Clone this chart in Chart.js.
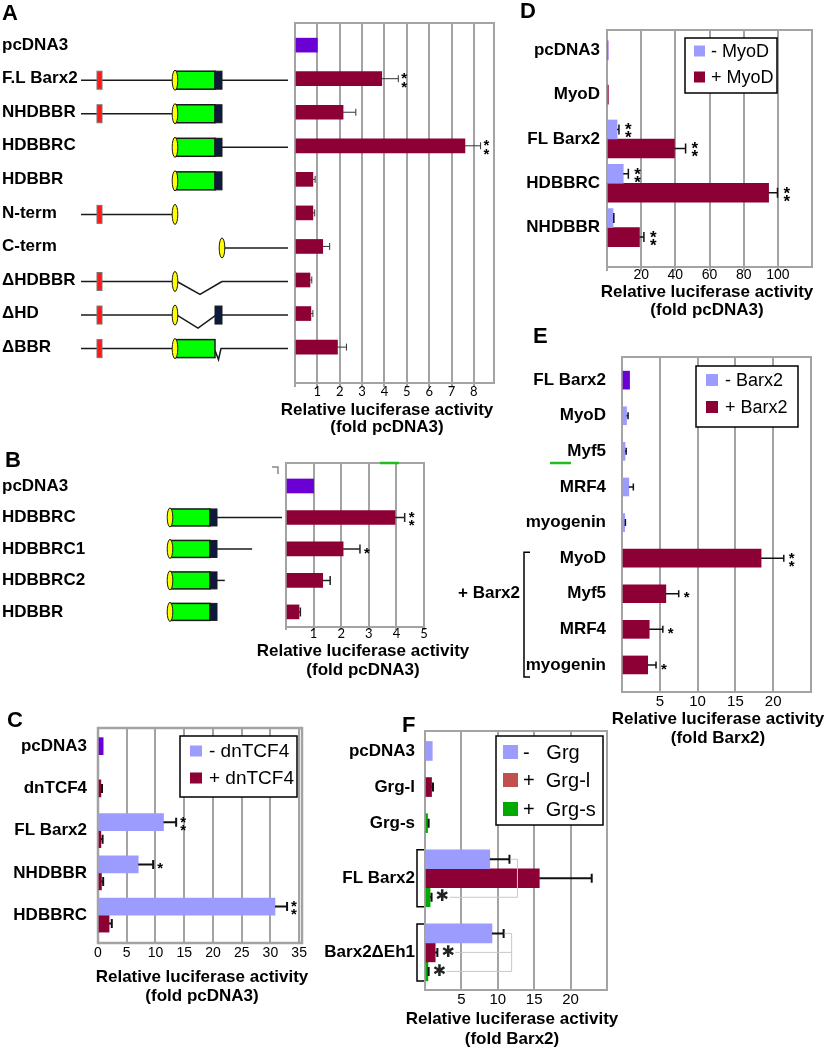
<!DOCTYPE html>
<html>
<head>
<meta charset="utf-8">
<script src="https://cdn.jsdelivr.net/npm/chart.js@4.4.1/dist/chart.umd.min.js"></script>
<style>
  body { margin: 0; background: #fff; }
  #fig { position: relative; width: 826px; height: 1050px; overflow: hidden; background: #fff; }
  #fig canvas { position: absolute; }
  .tag { position: absolute; font: bold 22px 'Liberation Sans', Arial, sans-serif; line-height: 1; color: #000; }
</style>
</head>
<body>
<div id="fig">
  <canvas id="chartA"></canvas>
  <canvas id="chartB"></canvas>
  <canvas id="chartD"></canvas>
  <canvas id="chartE"></canvas>
  <canvas id="chartC"></canvas>
  <canvas id="chartF"></canvas>
  <div class="tag" style="left:2px;top:2px">A</div>
  <div class="tag" style="left:5px;top:449px">B</div>
  <div class="tag" style="left:7px;top:709px">C</div>
  <div class="tag" style="left:520px;top:0px">D</div>
  <div class="tag" style="left:533px;top:325px">E</div>
  <div class="tag" style="left:402px;top:714px">F</div>
</div>
<script>
const PURPLE = '#6a00d4';
const LAVENDER = '#9c9cff';
const MAROON = '#8c0036';
const GREEN = '#00aa00';
const LIGHTRED = '#c0504d';
const GRID = '#a3a3a3';
const LABEL_FONT = "bold 17px 'Liberation Sans', Arial, sans-serif";

// ---------- A : deletion constructs
const aLabels = ['pcDNA3', 'F.L Barx2', 'NHDBBR', 'HDBBRC', 'HDBBR', 'N-term', 'C-term', 'ΔHDBBR', 'ΔHD', 'ΔBBR'];
const aValues = [1, 3.88, 2.15, 7.6, 0.8, 0.8, 1.24, 0.67, 0.71, 1.9];
const aErrors = [null, 4.62, 2.72, 8.3, 0.9, 0.88, 1.55, 0.75, 0.8, 2.3];
const aStars = ['', '**', '', '**', '', '', '', '', '', ''];
const aGridValues = [0, 1, 2, 3, 4, 5, 6, 7, 8];
const aTickLabels = [1, 2, 3, 4, 5, 6, 7, 8];
// n = N-term + red box, h = HD oval, g = homeodomain, b = BBR, c = C tail,
// k = oval at C-term start, v/w = deletion, z = BBR deleted
const aConstructs = [[], ['n', 'h', 'g', 'b', 'c'], ['n', 'h', 'g', 'b'], ['h', 'g', 'b', 'c'], ['h', 'g', 'b'],
  ['n', 'h'], ['k', 'c'], ['n', 'h', 'v', 'c'], ['n', 'h', 'w', 'b', 'c'], ['n', 'h', 'g', 'z', 'c']];

// ---------- B : C-terminal truncations
const bLabels = ['pcDNA3', 'HDBBRC', 'HDBBRC1', 'HDBBRC2', 'HDBBR'];
const bValues = [1, 3.95, 2.07, 1.33, 0.47];
const bErrors = [null, 4.3, 2.68, 1.6, 0.52];
const bStars = ['', '**', '*', '', ''];
const bGridValues = [0, 1, 2, 3, 4, 5];
const bTickLabels = [1, 2, 3, 4, 5];
const bConstructs = [[], ['h', 'g', 'b', ['c', 1]], ['h', 'g', 'b', ['c', 0.54]], ['h', 'g', 'b', ['c', 0.12]], ['h', 'g', 'b']];

// ---------- C : dnTCF4
const cLabels = ['pcDNA3', 'dnTCF4', 'FL Barx2', 'NHDBBR', 'HDBBRC'];
const cMinus = [0.9, null, 11.4, 7, 30.8];
const cMinusErr = [null, null, 13.6, 9.6, 32.9];
const cMinusStars = ['', '', '**', '*', '**'];
const cPlus = [null, 0.5, 0.5, 0.6, 1.93];
const cPlusErr = [null, 0.7, 0.8, 0.9, 2.4];
const cGridValues = [0, 5, 10, 15, 20, 25, 30, 35];
const cTickLabels = [0, 5, 10, 15, 20, 25, 30, 35];

// ---------- D : MyoD
const dLabels = ['pcDNA3', 'MyoD', 'FL Barx2', 'HDBBRC', 'NHDBBR'];
const dMinus = [0.6, null, 5.9, 9.5, 3.5];
const dMinusErr = [null, null, 7, 12.5, 4];
const dMinusStars = ['', '', '**', '**', ''];
const dPlus = [null, 0.8, 39.5, 94.6, 19];
const dPlusErr = [null, null, 46, 99.8, 21.6];
const dPlusStars = ['', '', '**', '**', '**'];
const dGridValues = [0, 20, 40, 60, 80, 100];
const dTickLabels = [20, 40, 60, 80, 100];

// ---------- E : MRFs
const eLabels = ['FL Barx2', 'MyoD', 'Myf5', 'MRF4', 'myogenin', 'MyoD', 'Myf5', 'MRF4', 'myogenin'];
const eMinus = [1, 0.6, 0.4, 0.9, 0.35, null, null, null, null];
const eMinusErr = [null, 0.8, 0.55, 1.5, 0.45, null, null, null, null];
const ePlus = [null, null, null, null, null, 18.4, 5.8, 3.6, 3.4];
const ePlusErr = [null, null, null, null, null, 21.4, 7.5, 5.4, 4.5];
const ePlusStars = ['', '', '', '', '', '**', '*', '*', '*'];
const eGridValues = [0, 5, 10, 15, 20];
const eTickLabels = [5, 10, 15, 20];

// ---------- F : Grg
const fLabels = ['pcDNA3', 'Grg-l', 'Grg-s', 'FL Barx2', 'Barx2ΔEh1'];
const fNone = [1.0, null, null, 8.9, 9.2];
const fNoneErr = [null, null, null, 11.6, 10.8];
const fLong = [null, 0.9, null, 15.7, 1.4];
const fLongErr = [null, 1.1, null, 22.9, 1.7];
const fLongStars = ['', '', '', '', '✱'];
const fShort = [null, null, 0.35, 0.7, 0.4];
const fShortErr = [null, null, 0.5, 0.9, 0.5];
const fShortStars = ['', '', '', '✱', '✱'];
const fLinks = [{ row: 3, from: 0, to: [2] }, { row: 4, from: 0, to: [1, 2] }];
const fGridValues = [0, 5, 10, 15, 20];
const fTickLabels = [5, 10, 15, 20];

function uniformRows(n) { return Array.from({ length: n }, (_, i) => i); }
// rows spaced by the number of bars each row holds (unit = one bar)
function slotRows(series, gap) {
  const counts = series[0].map((_, i) => series.filter(s => s[i] != null).length);
  const rows = [0];
  for (let i = 1; i < counts.length; i++) rows.push(rows[i - 1] + (counts[i - 1] + counts[i]) / 2 + gap);
  return rows;
}
function points(values, rows) { return values.map((v, i) => ({ x: v, y: rows[i] })); }
function firstRow(color, rest) { return (_, i) => i === 0 ? color : rest; }

function drawConstruct(ctx, parts, y, g, ox) {
  const X = v => v - ox;
  const kinds = parts.map(p => Array.isArray(p) ? p[0] : p);
  const half = g.h / 2;
  ctx.save();
  ctx.strokeStyle = '#1a1a1a';
  ctx.lineWidth = 1.5;
  const path = pts => {
    ctx.beginPath();
    pts.forEach(([px, py], k) => k ? ctx.lineTo(X(px), py) : ctx.moveTo(X(px), py));
    ctx.stroke();
  };
  parts.forEach(p => {
    const kind = Array.isArray(p) ? p[0] : p;
    const frac = Array.isArray(p) ? p[1] : 1;
    if (kind === 'n') path([[g.start, y], [g.hd, y]]);
    if (kind === 'c') path([[g.bbrEnd, y], [g.bbrEnd + (g.end - g.bbrEnd) * frac, y]]);
    if (kind === 'v') path([[g.hd + 2, y], [g.hd + 25, y + 13], [g.bbrEnd, y]]);
    if (kind === 'w') path([[g.hd + 2, y], [g.hd + 23, y + 13], [g.hdEnd + 1, y]]);
    if (kind === 'z') path([[g.hdEnd, y + 2], [g.hdEnd + 3.5, y + 11], [g.bbrEnd - 1, y], [g.bbrEnd, y]]);
  });
  const box = (x1, x2, fill, stroke, lw) => {
    ctx.fillStyle = fill;
    ctx.fillRect(X(x1), y - half, x2 - x1, g.h);
    ctx.strokeStyle = stroke;
    ctx.lineWidth = lw;
    ctx.strokeRect(X(x1), y - half, x2 - x1, g.h);
  };
  if (kinds.includes('n')) box(g.red - 2.5, g.red + 2.5, '#ff1a1a', '#777', 1);
  if (kinds.includes('g')) box(g.hd + 1, g.hdEnd, '#00ff00', '#1a1a1a', 1.5);
  if (kinds.includes('b')) box(g.hdEnd, g.bbrEnd, '#0d1a3d', '#1a1a1a', 1);
  const oval = cx => {
    ctx.beginPath();
    ctx.ellipse(X(cx), y, 2.8, half + 1, 0, 0, Math.PI * 2);
    ctx.fillStyle = '#ffff00';
    ctx.fill();
    ctx.strokeStyle = '#1a1a1a';
    ctx.lineWidth = 1;
    ctx.stroke();
  };
  if (kinds.includes('h')) oval(g.hd);
  if (kinds.includes('k')) oval(g.bbrEnd);
  ctx.restore();
}

function drawStars(ctx, s, x, y, st) {
  ctx.save();
  ctx.fillStyle = st.color || '#000';
  ctx.font = st.font;
  ctx.textAlign = 'left';
  if (st.glyph) {
    ctx.textBaseline = 'middle';
    ctx.fillText(s, x, y);
  } else {
    ctx.textBaseline = 'alphabetic';
    const n = s.length;
    for (let k = 0; k < n; k++) {
      const yy = y + (k - (n - 1) / 2) * st.gap;
      ctx.fillText('*', x, yy + st.size * 0.58);
    }
  }
  ctx.restore();
}

function panelPlugin(p) {
  const ox = p.canvas.x, oy = p.canvas.y;
  return {
    id: 'panel' + p.id,
    beforeDatasetsDraw(chart) {
      const a = chart.chartArea, ctx = chart.ctx;
      ctx.save();
      ctx.strokeStyle = GRID;
      ctx.lineWidth = p.frameWidth || 2;
      ctx.strokeRect(a.left, a.top, a.right - a.left, a.bottom - a.top);
      ctx.restore();
    },
    afterDatasetsDraw(chart) {
      const ctx = chart.ctx, xs = chart.scales.x, ys = chart.scales.y;
      ctx.save();
      // row labels
      ctx.font = LABEL_FONT;
      ctx.fillStyle = '#000';
      ctx.textBaseline = 'middle';
      ctx.textAlign = p.labelAlign;
      p.labels.forEach((lab, i) => ctx.fillText(lab, p.labelX - ox, ys.getPixelForValue(p.rows[i])));
      // axis title
      ctx.textAlign = 'center';
      ctx.fillText('Relative luciferase activity', p.title.x - ox, p.title.y1 - oy);
      ctx.fillText(p.title.line2, p.title.x - ox, p.title.y2 - oy);
      ctx.restore();

      // constructs
      if (p.constructs) {
        p.constructs.forEach((parts, i) => drawConstruct(ctx, parts, ys.getPixelForValue(p.rows[i]) + p.geom.dy, p.geom, ox));
      }

      // error bars and significance marks
      chart.data.datasets.forEach((ds, di) => {
        const meta = chart.getDatasetMeta(di);
        meta.data.forEach((el, i) => {
          if (ds.data[i].x == null) return;
          const e = ds.errors ? ds.errors[i] : null;
          let endX = el.x;
          if (e != null) {
            const ex = xs.getPixelForValue(e);
            ctx.save();
            ctx.strokeStyle = p.err.color;
            ctx.lineWidth = p.err.width;
            ctx.beginPath();
            ctx.moveTo(el.x, el.y);
            ctx.lineTo(ex, el.y);
            ctx.moveTo(ex, el.y - p.err.cap);
            ctx.lineTo(ex, el.y + p.err.cap);
            ctx.stroke();
            ctx.restore();
            endX = ex;
          }
          const s = ds.stars ? ds.stars[i] : '';
          if (s) drawStars(ctx, s, endX + p.star.dx, el.y, p.star);
        });
      });

      if (p.extra) p.extra(chart, ctx, ox, oy);

      // legend box
      if (p.legend) {
        const L = p.legend;
        ctx.save();
        ctx.fillStyle = '#fff';
        ctx.fillRect(L.box[0] - ox, L.box[1] - oy, L.box[2] - L.box[0], L.box[3] - L.box[1]);
        ctx.strokeStyle = '#000';
        ctx.lineWidth = 1.5;
        ctx.strokeRect(L.box[0] - ox, L.box[1] - oy, L.box[2] - L.box[0], L.box[3] - L.box[1]);
        ctx.font = L.font;
        ctx.textBaseline = 'middle';
        ctx.textAlign = 'left';
        chart.data.datasets.forEach((ds, di) => {
          const y = L.ys[di] - oy;
          ctx.fillStyle = ds.legendColor;
          ctx.fillRect(L.swatch[0] - ox, y - L.swatch[2] / 2, L.swatch[1], L.swatch[2]);
          ctx.fillStyle = '#000';
          ctx.fillText(ds.label, L.textX - ox, y + 1);
        });
        ctx.restore();
      }
    }
  };
}

function buildPanel(p) {
  const cv = document.getElementById(p.id);
  cv.width = p.canvas.w;
  cv.height = p.canvas.h;
  cv.style.left = p.canvas.x + 'px';
  cv.style.top = p.canvas.y + 'px';
  const AX = 22;
  const padding = {
    left: p.area.l - p.canvas.x,
    top: p.area.t - p.canvas.y,
    right: p.canvas.x + p.canvas.w - p.area.r,
    bottom: p.canvas.y + p.canvas.h - p.area.b - AX
  };
  return new Chart(cv, {
    type: 'bar',
    data: { datasets: p.datasets },
    options: {
      responsive: false,
      animation: false,
      events: [],
      indexAxis: 'y',
      layout: { padding },
      datasets: { bar: { barThickness: p.thickness, skipNull: true, grouped: true, borderWidth: 0 } },
      plugins: { legend: { display: false }, tooltip: { enabled: false } },
      scales: {
        x: {
          type: 'linear', min: 0, max: p.xMax,
          afterBuildTicks: s => { s.ticks = p.gridValues.map(v => ({ value: v })); },
          afterFit: s => { s.height = AX; },
          grid: { color: GRID, lineWidth: 2, drawTicks: p.tickLen > 0, tickLength: p.tickLen },
          border: { display: false },
          ticks: {
            color: '#000', padding: p.tickPad, autoSkip: false, maxRotation: 0,
            font: { family: p.tickFamily, size: p.tickSize, lineHeight: 1 },
            callback: v => p.tickLabels.includes(v) ? String(v) : ''
          }
        },
        y: { type: 'linear', display: false, reverse: true, offset: false, min: p.yMin, max: p.yMax }
      }
    },
    plugins: [panelPlugin(p)]
  });
}

// ---------- panel A
const aRows = uniformRows(aLabels.length);
buildPanel({
  id: 'chartA', canvas: { x: 0, y: 0, w: 512, h: 440 }, area: { l: 295, t: 23, r: 494, b: 383 },
  labels: aLabels, rows: aRows, labelAlign: 'left', labelX: 2,
  yMin: -0.66, yMax: 10.07, thickness: 14, xMax: 8.9,
  gridValues: aGridValues, tickLabels: aTickLabels,
  tickFamily: 'Lato', tickSize: 13, tickLen: 4, tickPad: -1.5,
  title: { x: 387, y1: 410, y2: 427, line2: '(fold pcDNA3)' },
  err: { color: '#333', width: 1, cap: 3.5 },
  star: { dx: 3, font: "bold 15px 'Liberation Sans', Arial", size: 15, gap: 9 },
  constructs: aConstructs,
  geom: { start: 81, red: 99.5, hd: 175, hdEnd: 215, bbrEnd: 222, end: 288, h: 18, dy: 1.5 },
  datasets: [{ label: 'activity', data: points(aValues, aRows), backgroundColor: aLabels.map(firstRow(PURPLE, MAROON)), errors: aErrors, stars: aStars }]
});

// ---------- panel B
const bRows = uniformRows(bLabels.length);
buildPanel({
  id: 'chartB', canvas: { x: 0, y: 440, w: 490, h: 240 }, area: { l: 286, t: 463, r: 424, b: 627 },
  labels: bLabels, rows: bRows, labelAlign: 'left', labelX: 2,
  yMin: -0.73, yMax: 4.48, thickness: 14, xMax: 5,
  gridValues: bGridValues, tickLabels: bTickLabels,
  tickFamily: 'Lato', tickSize: 13, tickLen: 3, tickPad: -2.5,
  title: { x: 363, y1: 651, y2: 670, line2: '(fold pcDNA3)' },
  err: { color: '#222', width: 1.5, cap: 4.5 },
  star: { dx: 4, font: "bold 15px 'Liberation Sans', Arial", size: 15, gap: 8 },
  constructs: bConstructs,
  geom: { start: 150, red: 0, hd: 170, hdEnd: 210, bbrEnd: 217, end: 282, h: 17, dy: 0 },
  datasets: [{ label: 'activity', data: points(bValues, bRows), backgroundColor: bLabels.map(firstRow(PURPLE, MAROON)), errors: bErrors, stars: bStars }],
  extra: (chart, ctx, ox, oy) => {
    ctx.save();
    ctx.strokeStyle = '#888';
    ctx.lineWidth = 1.5;
    ctx.beginPath();
    ctx.moveTo(272 - ox, 467 - oy);
    ctx.lineTo(278 - ox, 467 - oy);
    ctx.lineTo(278 - ox, 474 - oy);
    ctx.stroke();
    ctx.strokeStyle = '#22bb22';
    ctx.lineWidth = 2.5;
    ctx.beginPath();
    ctx.moveTo(380 - ox, 463 - oy);
    ctx.lineTo(399 - ox, 463 - oy);
    ctx.stroke();
    ctx.restore();
  }
});

// ---------- panel D
const dRows = uniformRows(dLabels.length);
buildPanel({
  id: 'chartD', canvas: { x: 512, y: 0, w: 314, h: 330 }, area: { l: 607, t: 30, r: 812, b: 267 },
  labels: dLabels, rows: dRows, labelAlign: 'right', labelX: 600,
  yMin: -0.46, yMax: 4.89, thickness: 19, xMax: 120,
  gridValues: dGridValues, tickLabels: dTickLabels,
  tickFamily: "'Liberation Sans', Arial", tickSize: 14, tickLen: 4, tickPad: -3,
  title: { x: 707, y1: 292, y2: 310, line2: '(fold pcDNA3)' },
  err: { color: '#111', width: 1.5, cap: 5 },
  star: { dx: 6, font: "bold 17px 'Liberation Sans', Arial", size: 17, gap: 8 },
  legend: { box: [685, 38, 777, 93], swatch: [694, 11, 11], textX: 711, ys: [51, 77], font: "18px 'Liberation Sans', Arial" },
  datasets: [
    { label: '- MyoD', data: points(dMinus, dRows), backgroundColor: dLabels.map(firstRow(PURPLE, LAVENDER)), legendColor: LAVENDER, errors: dMinusErr, stars: dMinusStars },
    { label: '+ MyoD', data: points(dPlus, dRows), backgroundColor: MAROON, legendColor: MAROON, errors: dPlusErr, stars: dPlusStars }
  ]
});

// ---------- panel E
const eRows = uniformRows(eLabels.length);
buildPanel({
  id: 'chartE', canvas: { x: 440, y: 325, w: 386, h: 425 }, area: { l: 622, t: 357, r: 811, b: 692 },
  labels: eLabels, rows: eRows, labelAlign: 'right', labelX: 606,
  yMin: -0.65, yMax: 8.76, thickness: 18, xMax: 25,
  gridValues: eGridValues, tickLabels: eTickLabels,
  tickFamily: "'Liberation Sans', Arial", tickSize: 15, tickLen: 0, tickPad: 2.5,
  title: { x: 718, y1: 719, y2: 738, line2: '(fold Barx2)' },
  err: { color: '#111', width: 1.5, cap: 3.5 },
  star: { dx: 5, font: "bold 15px 'Liberation Sans', Arial", size: 15, gap: 8 },
  legend: { box: [696, 366, 798, 427], swatch: [706, 12, 12], textX: 725, ys: [380, 407], font: "18px 'Liberation Sans', Arial" },
  datasets: [
    { label: '- Barx2', data: points(eMinus, eRows), backgroundColor: eLabels.map(firstRow(PURPLE, LAVENDER)), legendColor: LAVENDER, errors: eMinusErr },
    { label: '+ Barx2', data: points(ePlus, eRows), backgroundColor: MAROON, legendColor: MAROON, errors: ePlusErr, stars: ePlusStars }
  ],
  extra: (chart, ctx, ox, oy) => {
    const ys = chart.scales.y;
    const top = ys.getPixelForValue(eRows[5]) - 6, bottom = ys.getPixelForValue(eRows[8]) + 12;
    ctx.save();
    ctx.strokeStyle = '#000';
    ctx.lineWidth = 1.5;
    ctx.beginPath();
    ctx.moveTo(530 - ox, top);
    ctx.lineTo(524 - ox, top);
    ctx.lineTo(524 - ox, bottom);
    ctx.lineTo(530 - ox, bottom);
    ctx.stroke();
    ctx.font = LABEL_FONT;
    ctx.fillStyle = '#000';
    ctx.textAlign = 'right';
    ctx.textBaseline = 'middle';
    ctx.fillText('+ Barx2', 520 - ox, ys.getPixelForValue(eRows[6]));
    ctx.strokeStyle = '#22bb22';
    ctx.lineWidth = 2.5;
    ctx.beginPath();
    ctx.moveTo(550 - ox, 463 - oy);
    ctx.lineTo(571 - ox, 463 - oy);
    ctx.stroke();
    ctx.restore();
  }
});

// ---------- panel C
const cRows = uniformRows(cLabels.length);
buildPanel({
  id: 'chartC', canvas: { x: 0, y: 700, w: 330, h: 350 }, area: { l: 98, t: 728, r: 302, b: 943 },
  labels: cLabels, rows: cRows, labelAlign: 'right', labelX: 87,
  yMin: -0.43, yMax: 4.66, thickness: 17, xMax: 35.5,
  gridValues: cGridValues, tickLabels: cTickLabels,
  tickFamily: "'Liberation Sans', Arial", tickSize: 14, tickLen: 0, tickPad: 3,
  title: { x: 202, y1: 977, y2: 996, line2: '(fold pcDNA3)' },
  frameWidth: 2.5,
  err: { color: '#111', width: 2, cap: 4.5 },
  star: { dx: 4, font: "bold 15px 'Liberation Sans', Arial", size: 15, gap: 8 },
  legend: { box: [180, 736, 297, 797], swatch: [190, 12, 11], textX: 209, ys: [751, 778], font: "19px 'Liberation Sans', Arial" },
  datasets: [
    { label: '- dnTCF4', data: points(cMinus, cRows), backgroundColor: cLabels.map(firstRow(PURPLE, LAVENDER)), legendColor: LAVENDER, errors: cMinusErr, stars: cMinusStars },
    { label: '+ dnTCF4', data: points(cPlus, cRows), backgroundColor: MAROON, legendColor: MAROON, errors: cPlusErr }
  ]
});

// ---------- panel F
const fRows = slotRows([fNone, fLong, fShort], 0.9);
buildPanel({
  id: 'chartF', canvas: { x: 320, y: 700, w: 506, h: 350 }, area: { l: 425, t: 731, r: 607, b: 990 },
  labels: fLabels, rows: fRows, labelAlign: 'right', labelX: 415,
  yMin: -1.05, yMax: 12.58, thickness: 19, xMax: 25,
  gridValues: fGridValues, tickLabels: fTickLabels,
  tickFamily: "'Liberation Sans', Arial", tickSize: 15, tickLen: 0, tickPad: 2.5,
  title: { x: 512, y1: 1019, y2: 1039, line2: '(fold Barx2)' },
  err: { color: '#111', width: 2, cap: 4.5 },
  star: { dx: 4, glyph: true, font: "16px 'DejaVu Sans'", size: 16, color: '#222' },
  legend: { box: [496, 736, 603, 825], swatch: [503, 15, 14], textX: 523, ys: [752, 780, 809], font: "20px 'Liberation Sans', Arial" },
  datasets: [
    { label: '-   Grg', data: points(fNone, fRows), backgroundColor: LAVENDER, legendColor: LAVENDER, errors: fNoneErr },
    { label: '+  Grg-l', data: points(fLong, fRows), backgroundColor: MAROON, legendColor: LIGHTRED, errors: fLongErr, stars: fLongStars },
    { label: '+  Grg-s', data: points(fShort, fRows), backgroundColor: GREEN, legendColor: GREEN, errors: fShortErr, stars: fShortStars }
  ],
  extra: (chart, ctx, ox, oy) => {
    const xs = chart.scales.x;
    const el = (d, i) => chart.getDatasetMeta(d).data[i];
    const ds = chart.data.datasets;
    ctx.save();
    // thin comparison brackets
    ctx.strokeStyle = '#c8c8c8';
    ctx.lineWidth = 1;
    fLinks.forEach(link => {
      const src = el(link.from, link.row);
      const sx = xs.getPixelForValue(ds[link.from].errors[link.row]);
      const bx = sx + 8;
      const last = el(link.to[link.to.length - 1], link.row);
      ctx.beginPath();
      ctx.moveTo(sx + 1, src.y);
      ctx.lineTo(bx, src.y);
      ctx.lineTo(bx, last.y);
      ctx.stroke();
      link.to.forEach(d => {
        const t = el(d, link.row);
        const tx = xs.getPixelForValue(ds[d].errors[link.row]) + 18;
        ctx.beginPath();
        ctx.moveTo(bx, t.y);
        ctx.lineTo(tx, t.y);
        ctx.stroke();
      });
    });
    // group brackets at the left of the frame
    ctx.strokeStyle = '#000';
    ctx.lineWidth = 1.5;
    fLinks.forEach(link => {
      const top = el(0, link.row).y - 9.5, bottom = el(2, link.row).y + 9.5;
      ctx.beginPath();
      ctx.moveTo(424 - ox, top);
      ctx.lineTo(417 - ox, top);
      ctx.lineTo(417 - ox, bottom);
      ctx.lineTo(424 - ox, bottom);
      ctx.stroke();
    });
    ctx.restore();
  }
});
</script>
</body>
</html>
